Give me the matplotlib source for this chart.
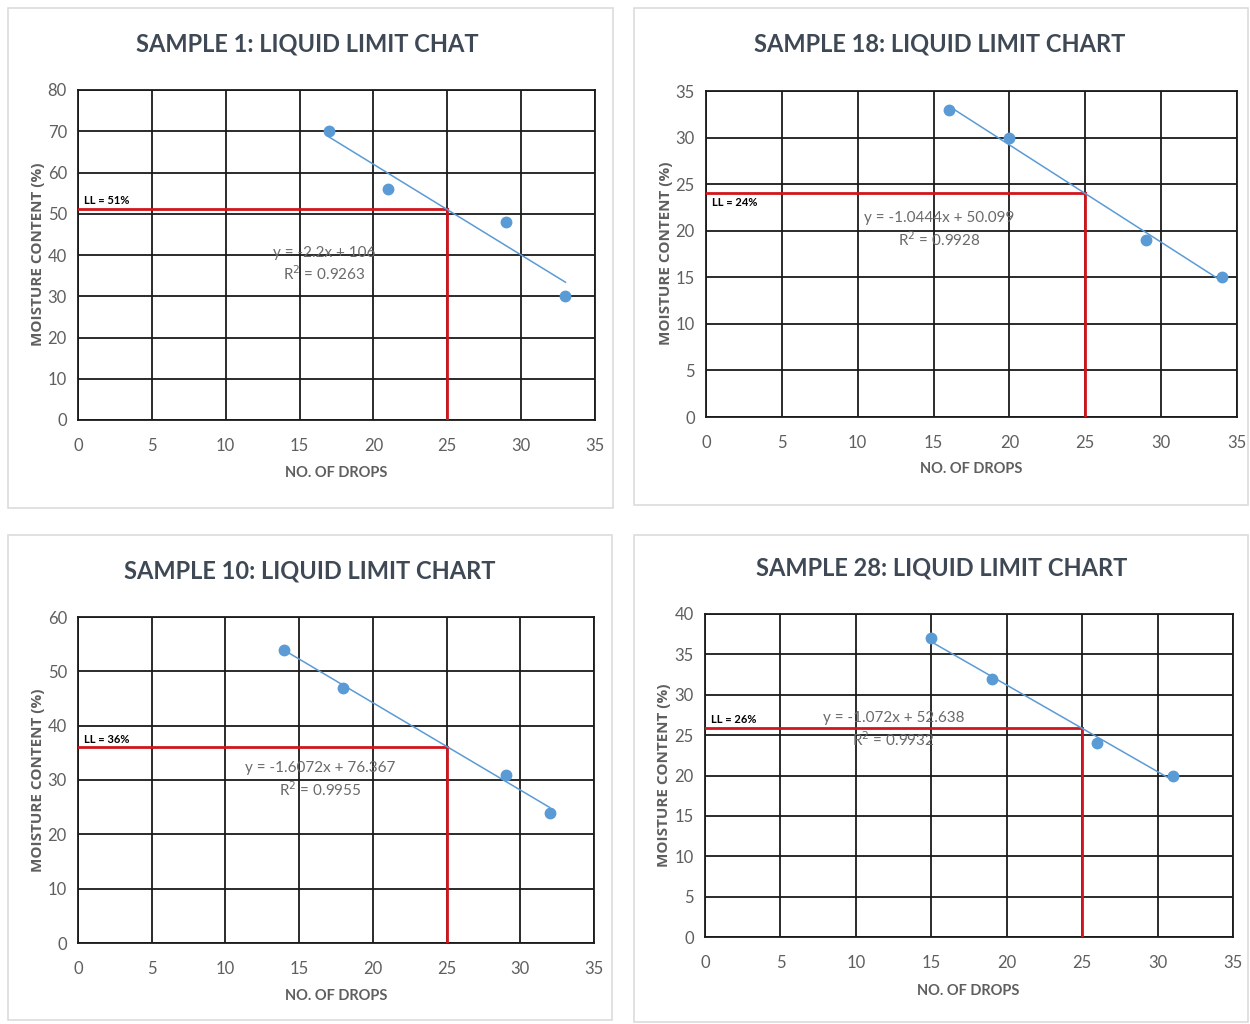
import numpy as np
import matplotlib.pyplot as plt
from matplotlib.patches import Rectangle

# chart data
titles = ["SAMPLE 1: LIQUID LIMIT CHAT", "SAMPLE 18: LIQUID LIMIT CHART",
          "SAMPLE 10: LIQUID LIMIT CHART", "SAMPLE 28: LIQUID LIMIT CHART"]
drops_1 = [17, 21, 29, 33]
moist_1 = [70, 56, 48, 30]
drops_18 = [16, 20, 29, 34]
moist_18 = [33, 30, 19, 15]
drops_10 = [14, 18, 29, 32]
moist_10 = [54, 47, 31, 24]
drops_28 = [15, 19, 26, 31]
moist_28 = [37, 32, 24, 20]
ll_values = [51.2, 24, 36, 25.9]
ll_labels = ["LL = 51%", "LL = 24%", "LL = 36%", "LL = 26%"]
eq_labels = ["y = -2.2x + 106", "y = -1.0444x + 50.099",
             "y = -1.6072x + 76.367", "y = -1.072x + 52.638"]
r2_labels = ["R$^2$ = 0.9263", "R$^2$ = 0.9928", "R$^2$ = 0.9955", "R$^2$ = 0.9932"]
y_max = [80, 35, 60, 40]
y_step = [10, 5, 10, 5]
x_ticks = [0, 5, 10, 15, 20, 25, 30, 35]

W, H = 1250, 1024
fig = plt.figure(figsize=(12.5, 10.24), dpi=100)

FONT = ['Lato', 'DejaVu Sans']
GRAY = '#5f5f5f'
TITLE = '#3e4955'
BLUE = '#5b9bd5'
RED = '#d0161e'


def px_box(l, t, r, b):
    return [l / W, 1 - b / H, (r - l) / W, (b - t) / H]


# pixel layout of each panel: frame, axes, title pos, xlabel pos, ylabel pos, eq pos
panels = [
    dict(frame=(8, 8, 613, 508), ax=(78, 90, 595, 420), title=(307, 44),
         xl=(336, 473), yl=(38, 254), eq=(16.7, 40.5, 35.4), ll_above=True),
    dict(frame=(634, 8, 1248, 505), ax=(706, 91, 1237, 417), title=(940, 44),
         xl=(971, 469), yl=(666, 253), eq=(15.4, 21.4, 19.0), ll_above=False),
    dict(frame=(8, 535, 612, 1020), ax=(78, 617, 594, 943), title=(310, 571),
         xl=(336, 996), yl=(38, 780), eq=(16.4, 32.2, 28.3), ll_above=True),
    dict(frame=(634, 535, 1248, 1022), ax=(705, 614, 1233, 937), title=(942, 568),
         xl=(968, 991), yl=(664, 775), eq=(12.5, 27.1, 24.4), ll_above=True),
]
series = [(drops_1, moist_1), (drops_18, moist_18), (drops_10, moist_10), (drops_28, moist_28)]

for i, p in enumerate(panels):
    l, t, r, b = p['frame']
    fig.patches.append(Rectangle((l / W, 1 - b / H), (r - l) / W, (b - t) / H,
                                 transform=fig.transFigure, fill=False,
                                 edgecolor='#dcdcdc', linewidth=1.2))
    ax = fig.add_axes(px_box(*p['ax']))
    x = np.array(series[i][0], dtype=float)
    y = np.array(series[i][1], dtype=float)

    ax.set_xlim(0, 35)
    ax.set_ylim(0, y_max[i])
    ax.set_xticks(x_ticks)
    ax.set_yticks(np.arange(0, y_max[i] + 1, y_step[i]))
    ax.grid(True, color='#1a1a1a', linewidth=1.3)
    ax.set_axisbelow(True)
    for s in ax.spines.values():
        s.set_color('#1a1a1a')
        s.set_linewidth(1.3)
    ax.tick_params(length=0, labelsize=12, labelcolor=GRAY)
    ax.tick_params(axis='x', pad=13)
    ax.tick_params(axis='y', pad=8)
    for lab in ax.get_xticklabels() + ax.get_yticklabels():
        lab.set_family(FONT)

    # liquid limit guide lines
    ll = ll_values[i]
    ax.plot([0, 25], [ll, ll], color=RED, linewidth=2, zorder=3)
    ax.plot([25, 25], [0, ll], color=RED, linewidth=2, zorder=3)
    if p['ll_above']:
        ax.text(0.4, ll + y_max[i] * 0.008, ll_labels[i], fontsize=8, fontweight='bold',
                family=FONT, va='bottom', ha='left', zorder=4)
    else:
        ax.text(0.4, ll - y_max[i] * 0.012, ll_labels[i], fontsize=8, fontweight='bold',
                family=FONT, va='top', ha='left', zorder=4)

    # linear trendline
    k, c = np.polyfit(x, y, 1)
    xs = np.array([x.min(), x.max()])
    ax.plot(xs, k * xs + c, color=BLUE, linewidth=1.1, zorder=4)
    ax.plot(x, y, 'o', color=BLUE, markersize=7.5, zorder=5)

    ex, ey, ry = p['eq']
    ax.text(ex, ey, eq_labels[i], fontsize=11, color='#6a6a6a', family=FONT,
            ha='center', va='center', zorder=6)
    ax.text(ex, ry, r2_labels[i], fontsize=11, color='#6a6a6a', family=FONT,
            ha='center', va='center', zorder=6)

    tx, ty = p['title']
    fig.text(tx / W, 1 - ty / H, titles[i], fontsize=17, fontweight='bold', color=TITLE,
             family=FONT, ha='center', va='center')
    xx, xy = p['xl']
    fig.text(xx / W, 1 - xy / H, "NO. OF DROPS", fontsize=10.5, fontweight='bold', color=GRAY,
             family=FONT, ha='center', va='center')
    yx, yy = p['yl']
    fig.text(yx / W, 1 - yy / H, "MOISTURE CONTENT (%)", fontsize=11, fontweight='bold',
             color=GRAY, family=['Open Sans', 'DejaVu Sans'], ha='center', va='center',
             rotation=90)

fig.savefig('out.png', dpi=100)
